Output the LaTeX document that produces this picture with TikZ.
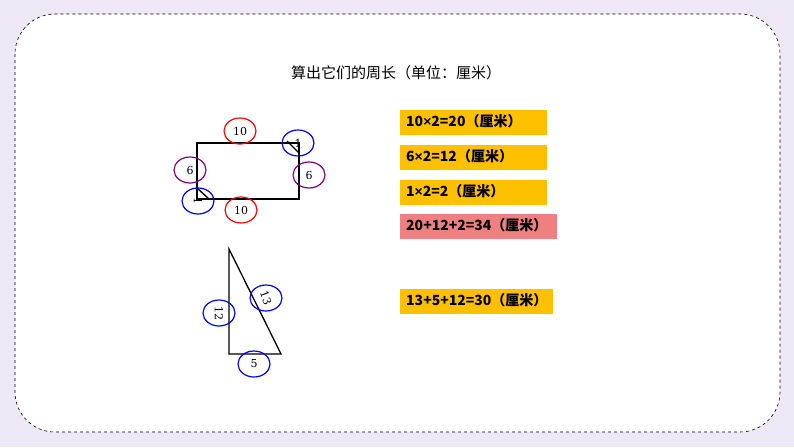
\documentclass[tikz,border=0pt]{standalone}
\usepackage{fontspec}
\setmainfont{Noto Sans CJK SC}
\newfontfamily\serifnum{DejaVu Serif}
\newfontfamily\arialish{Liberation Sans}
\usetikzlibrary{shapes.geometric}
\definecolor{bglav}{RGB}{237,231,246}
\definecolor{gold}{RGB}{255,192,0}
\definecolor{pinkbox}{RGB}{240,128,128}
\newcommand{\tms}{{\arialish\bfseries ×}}
\begin{document}
\begin{tikzpicture}[x=1pt,y=-1pt,
  ov/.style={draw,line width=1.2pt,ellipse,minimum width=32pt,minimum height=26pt,inner sep=0pt,font=\serifnum\fontsize{11}{11}\selectfont},
  calc/.style={fill=#1,anchor=north west,inner sep=0pt,font=\bfseries\fontsize{14}{14}\selectfont,text height=13pt,text depth=5pt,align=left,minimum height=25pt,inner xsep=6pt},
  shp/.style={draw,line width=1.3pt,line join=miter}]
\fill[bglav] (0,0) rectangle (794,447);
\draw[dashed,fill=white,rounded corners=40pt,line width=0.6pt] (15,14) rectangle (780,432);
\node (title) at (396,73) {\fontsize{15}{15}\selectfont 算出它们的周长（单位：厘米）};
\draw[shp] (197,143) rectangle (299,199);
\draw[shp] (287,141) -- (299,153);
\draw[shp] (197,188) -- (209,199);
\node[ov,red] (t10) at (240,131) {\color{black}10};
\node[ov,blue] (t1) at (298,143) {\color{black}1};
\node[ov,violet] (l6) at (190,170) {\color{black}6};
\node[ov,violet] (r6) at (309,175) {\color{black}6};
\node[ov,blue] (b1) at (198,201) {\color{black}\rotatebox{-90}{1}};
\node[ov,red] (b10) at (241,210) {\color{black}10};
\draw[shp] (229,249) -- (229,354) -- (281,354) -- cycle;
\node[ov,blue] (s12) at (219,313) {\color{black}\rotatebox{-90}{12}};
\node[ov,blue] (s13) at (266,298) {\color{black}\rotatebox{-70}{13}};
\node[ov,blue] (s5) at (254,364) {\color{black}5};
\node[calc=gold,text width=135pt] (c1) at (400,110) {10\tms 2=20（厘米）};
\node[calc=gold,text width=135pt] (c2) at (400,145) {6\tms 2=12（厘米）};
\node[calc=gold,text width=135pt] (c3) at (400,180) {1\tms 2=2（厘米）};
\node[calc=pinkbox,text width=145pt] (c4) at (400,214) {20+12+2=34（厘米）};
\node[calc=gold,text width=141pt] (c5) at (400,289) {13+5+12=30（厘米）};
\end{tikzpicture}
\end{document}
